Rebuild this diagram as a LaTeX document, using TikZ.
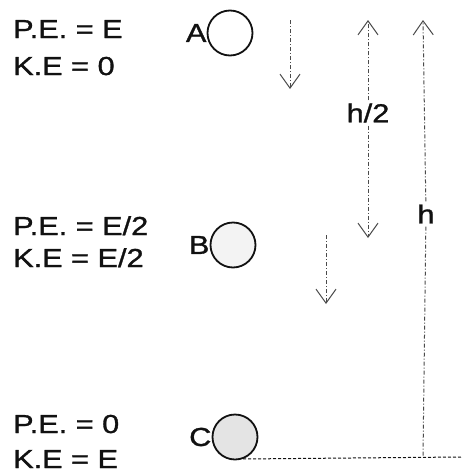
\documentclass[tikz,border=0pt]{standalone}
\usepackage{fontspec}
\setmainfont{Liberation Sans}[FakeStretch=1.18,FakeBold=1.2]
\usetikzlibrary{arrows.meta}
\definecolor{SketchInk}{HTML}{111111}
\definecolor{SketchDash}{HTML}{4A4A4A}
\definecolor{SketchBall}{HTML}{E4E4E4}

\begin{document}
\begin{tikzpicture}[x=1pt,y=-1pt,
    lbl/.style={anchor=base west,text=SketchInk,font=\fontsize{26}{30}\selectfont,inner sep=0pt},
    ball/.style={circle,draw=SketchInk,line width=1.8pt,minimum size=45pt,inner sep=0pt},
    tag/.style={anchor=east,text=SketchInk,font=\fontsize{26}{30}\selectfont,inner sep=0pt},
    dim/.style={SketchDash,line width=1pt,dash pattern=on 4pt off 2pt on 1pt off 2pt},
    tip/.style={-{Straight Barb[length=14pt,width=20pt,line width=1pt]}}]
  \useasboundingbox (0,0) rectangle (461,474);
  % energy at each level
  \node[lbl] (peA) at (13,38) {P.E. = E};
  \node[lbl] (keA) at (13,75) {K.E = 0};
  \node[lbl] (peB) at (13,235) {P.E. = E/2};
  \node[lbl] (keB) at (13,267) {K.E = E/2};
  \node[lbl] (peC) at (13,433) {P.E. = 0};
  \node[lbl] (keC) at (13,468) {K.E = E};
  % the ball at A, B and C
  \node[ball] (A) at (230,33) {};
  \node[ball,fill=SketchBall!45] (B) at (233,245) {};
  \node[ball,fill=SketchBall] (C) at (235,437) {};
  \node[tag] at (A.west) {A};
  \node[tag] at (B.west) {B};
  \node[tag] at (C.west) {C};
  % ground
  \coordinate (groundEnd) at (461,457);
  \draw[SketchInk,line width=1pt,densely dashed] (C.-70) -- (groundEnd);
  % falling
  \coordinate (fallAtop) at (290,20);
  \coordinate (fallAbot) at (290,89);
  \coordinate (fallBtop) at (326,235);
  \coordinate (fallBbot) at (326,304);
  \draw[dim,tip] (fallAtop) -- (fallAbot);
  \draw[dim,tip] (fallBtop) -- (fallBbot);
  % heights
  \coordinate (halfTop) at (368,20);
  \coordinate (halfBot) at (368,238);
  \node[text=SketchInk,font=\fontsize{26}{30}\selectfont,inner sep=3pt] (hhalf) at (368,113) {h/2};
  \draw[dim,tip] (hhalf) -- (halfTop);
  \draw[dim,tip] (hhalf) -- (halfBot);
  \coordinate (fullTop) at (423,20);
  \coordinate (fullBot) at (423,457);
  \node[text=SketchInk,font=\fontsize{26}{30}\selectfont,inner sep=3pt] (hfull) at (426,214) {h};
  \draw[dim,tip] (hfull) -- (fullTop);
  \draw[dim] (hfull) -- (fullBot);
\end{tikzpicture}
\end{document}
